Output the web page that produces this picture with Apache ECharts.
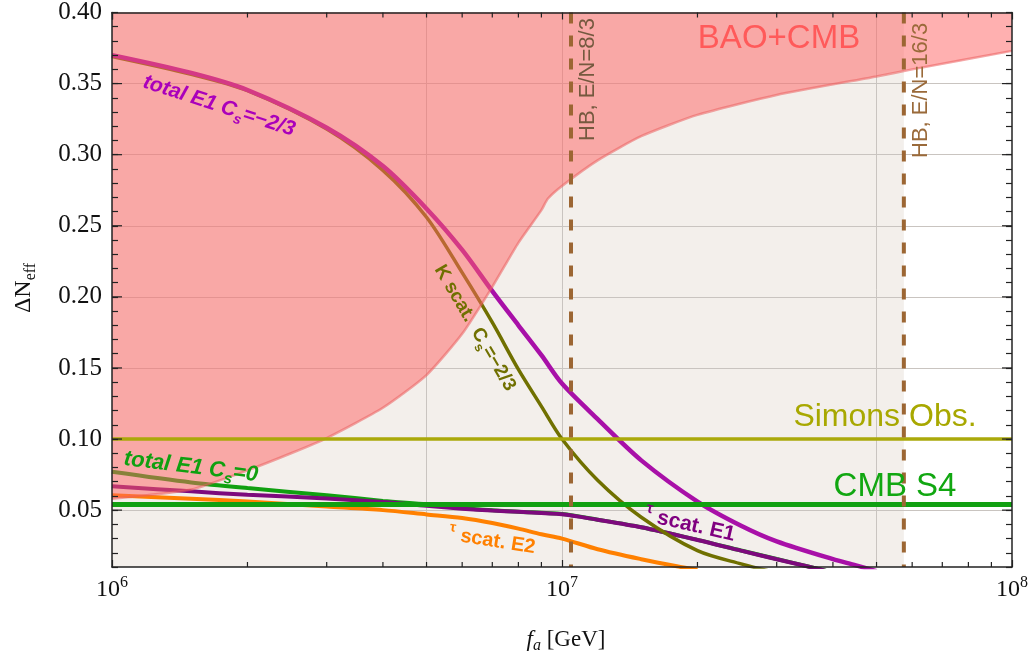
<!DOCTYPE html>
<html><head><meta charset="utf-8">
<script src="https://cdn.jsdelivr.net/npm/echarts@6/dist/echarts.min.js"></script>
<style>html,body{margin:0;padding:0;background:#fff}#c{width:1035px;height:659px}</style>
</head><body><div id="c"></div>
<script>
// ---- data (fa in GeV, Delta N_eff) ----
const totalCsNeg_fa = [1e6,1.5e6,2e6,3e6,4e6,5e6,6e6,7e6,8e6,9e6,1e7,1.2e7,1.5e7,2e7,2.5e7,3e7,4e7,4.5e7,5e7];
const totalCsNeg    = [0.370,0.3575,0.3455,0.319,0.292,0.262,0.233,0.204,0.180,0.159,0.139,0.114,0.085,0.056,0.039,0.028,0.0155,0.0112,0.007];
const kScat_fa = [1e6,1.5e6,2e6,3e6,4e6,5e6,6e6,7e6,8e6,9e6,1e7,1.2e7,1.5e7,2e7,2.5e7,3e7];
const kScat    = [0.369,0.3565,0.345,0.318,0.289,0.256,0.217,0.182,0.149,0.123,0.100,0.071,0.045,0.0215,0.0122,0.006];
const tauE1_fa = [1e6,1.5e6,2e6,3e6,4e6,5e6,6e6,7e6,8e6,1e7,1.2e7,1.5e7,2e7,2.5e7,3e7,3.5e7,4e7];
const tauE1    = [0.0668,0.0632,0.0608,0.0582,0.0557,0.053,0.051,0.0497,0.0488,0.0471,0.0432,0.0379,0.029,0.0215,0.0155,0.0105,0.006];
const tauE2_fa = [1e6,1.5e6,2e6,3e6,4e6,5e6,6e6,7e6,8e6,9e6,1e7,1.2e7,1.5e7,1.8e7,2e7];
const tauE2    = [0.0605,0.058,0.056,0.0525,0.050,0.047,0.0445,0.041,0.037,0.033,0.030,0.0225,0.0155,0.0105,0.008];
const totalCs0_fa = [1e6,1.5e6,2e6,3e6,4e6,5e6,6e6,7e6,8e6,1e7,1.2e7,1.5e7,2e7,2.5e7,3e7,3.5e7,4e7];
const totalCs0    = [0.077,0.0695,0.0655,0.0605,0.0565,0.054,0.0515,0.0499,0.0489,0.0472,0.0433,0.0380,0.0291,0.0216,0.0156,0.0106,0.0061];
const bao_fa = [1e6,1.5e6,2e6,2.5e6,3e6,4e6,5e6,6e6,7e6,8e6,9e6,9.3e6,1e7,1.2e7,1.5e7,2e7,3e7,5e7,6e7,1e8];
const bao    = [0.058,0.0645,0.078,0.090,0.1007,0.122,0.145,0.174,0.207,0.238,0.261,0.269,0.278,0.296,0.313,0.328,0.342,0.355,0.36,0.373];
const simonsObs = 0.10;
const cmbS4 = 0.054;
const hb83 = 1.047e7;
const hb163 = 5.75e7;
const xMin = 1e6, xMax = 1e8, yMin = 0.01, yMax = 0.40;
const xMinorTicks = [2e6,3e6,4e6,5e6,6e6,7e6,8e6,9e6,2e7,3e7,4e7,5e7,6e7,7e7,8e7,9e7];
const yMajorTicks = [0.05,0.10,0.15,0.20,0.25,0.30,0.35];
const xGridLines = [5e6,1e7,5e7];
const yGridLines = [0.05,0.10,0.15,0.20,0.25,0.30,0.35];

const zip = (a,b) => a.map((v,i)=>[v,b[i]]);
const SANS = 'Liberation Sans', SERIF = 'Liberation Serif';
const deg = Math.PI/180;

function curve(name, fa, vals, color, width, z){
  return {type:'line', name, data: zip(fa, vals), symbol:'none', smooth:0.3, z: z||2,
    lineStyle:{color, width}, silent:true};
}
function subRich(color, size, weight, style){
  return {
    s:{fontSize:Math.round(size*0.68), fontWeight:weight, fontStyle:style, fontFamily:SANS, fill:color, verticalAlign:'bottom', lineHeight:12},
    t:{fontSize:Math.round(size*0.72), fontWeight:weight, fontStyle:style, fontFamily:SANS, fill:color, verticalAlign:'top', lineHeight:12},
    m:{fontSize:size, fontWeight:weight, fontStyle:style, fontFamily:SANS, fill:color, lineHeight:size+8}
  };
}
function label(text, x, y, rot, color, size, weight, style){
  return {type:'text', x, y, rotation: rot*deg, z:100, silent:true,
    style:{text, rich: subRich(color,size,weight,style), fill:color, fontSize:size, fontWeight:weight, fontStyle:style,
      fontFamily:SANS, align:'center', verticalAlign:'middle', lineHeight:size+8}};
}

const chart = echarts.init(document.getElementById('c'));
const axisCommon = {
  axisLine:{show:true, onZero:false, lineStyle:{color:'#222', width:1.5}},
  splitLine:{show:false}, z:10
};
const option = {
  animation:false,
  backgroundColor:'#fff',
  grid:{left:112, right:23, top:10, bottom:92},
  xAxis:[
    Object.assign({type:'log', logBase:10, min:xMin, max:xMax, position:'bottom',
      axisTick:{show:true, inside:true, length:7, lineStyle:{color:'#222', width:1.2}},
      axisLabel:{margin:8, formatter: v => '{b|10}{s|' + Math.round(Math.log10(v)) + '}',
        rich:{b:{fontSize:24, fontFamily:SERIF, color:'#111', lineHeight:30},
              s:{fontSize:16, fontFamily:SERIF, color:'#111', verticalAlign:'top', lineHeight:16}}}}, axisCommon),
    Object.assign({type:'log', logBase:10, min:xMin, max:xMax, position:'top',
      axisTick:{show:true, inside:true, length:7, lineStyle:{color:'#222', width:1.2}},
      axisLabel:{show:false}}, axisCommon)
  ],
  yAxis:[
    Object.assign({type:'value', min:yMin, max:yMax, interval:0.01, position:'left',
      axisTick:{show:true, inside:true, length:6, lineStyle:{color:'#222', width:1.2}},
      axisLabel:{margin:10,
        formatter: v => { const k = v*20; return Math.abs(k - Math.round(k)) < 1e-6 ? '{v|' + v.toFixed(2) + '}' : ''; },
        rich:{v:{fontSize:25, fontFamily:SERIF, color:'#111'}}}}, axisCommon),
    Object.assign({type:'value', min:yMin, max:yMax, interval:0.01, position:'right',
      axisTick:{show:true, inside:true, length:6, lineStyle:{color:'#222', width:1.2}},
      axisLabel:{show:false}}, axisCommon)
  ],
  series:[
    {type:'line', name:'bg', data:[], z:0, silent:true,
      markArea:{silent:true, z:0, itemStyle:{color:'#f3efeb'},
        data:[[{xAxis:xMin, yAxis:yMin},{xAxis:hb163, yAxis:yMax}]]},
      markLine:{silent:true, z:1, symbol:'none', label:{show:false},
        lineStyle:{color:'#c9c4c0', width:1, type:'solid'},
        data: xGridLines.map(v=>({xAxis:v})).concat(yGridLines.map(v=>({yAxis:v})))}},
    curve('total E1 Cs=0', totalCs0_fa, totalCs0, '#10a010', 4),
    curve('tau scat. E2', tauE2_fa, tauE2, '#ff8000', 4),
    curve('tau scat. E1', tauE1_fa, tauE1, '#7d0a7d', 4),
    curve('K scat. Cs=-2/3', kScat_fa, kScat, '#707000', 3.5),
    curve('total E1 Cs=-2/3', totalCsNeg_fa, totalCsNeg, '#a810a8', 4.5),
    {type:'line', name:'BAO+CMB', data: zip(bao_fa, bao), symbol:'none', smooth:0.2, z:3, silent:true,
      lineStyle:{color:'rgba(235,95,95,0.55)', width:2.5},
      areaStyle:{color:'rgba(255,97,97,0.5)', opacity:1, origin:'end'}},
    {type:'line', name:'Simons Obs.', data:[[xMin,simonsObs],[xMax,simonsObs]], symbol:'none', z:4, silent:true,
      lineStyle:{color:'#aaa90a', width:3.5}},
    {type:'line', name:'CMB S4', data:[[xMin,cmbS4],[xMax,cmbS4]], symbol:'none', z:4, silent:true,
      lineStyle:{color:'#11a011', width:5}},
    {type:'line', name:'HB 8/3', data:[[hb83,yMax],[hb83,yMin]], symbol:'none', z:4, silent:true,
      lineStyle:{color:'#9c6633', width:4, type:[11,12]}},
    {type:'line', name:'HB 16/3', data:[[hb163,yMax],[hb163,yMin]], symbol:'none', z:4, silent:true,
      lineStyle:{color:'#9c6633', width:4, type:[11,12]}},
    {type:'custom', name:'xMinorTicks', z:11, silent:true, data: xMinorTicks.map(v=>[v,yMin]),
      renderItem:(params, api)=>{
        const b = api.coord([api.value(0), yMin]); const t = api.coord([api.value(0), yMax]);
        const st = {stroke:'#222', lineWidth:1.2};
        return {type:'group', children:[
          {type:'line', shape:{x1:b[0],y1:b[1],x2:b[0],y2:b[1]-5}, style:st},
          {type:'line', shape:{x1:t[0],y1:t[1],x2:t[0],y2:t[1]+5}, style:st}]};
      }},
    {type:'custom', name:'yMajorTicks', z:11, silent:true, data: yMajorTicks.map(v=>[xMin,v]),
      renderItem:(params, api)=>{
        const l = api.coord([xMin, api.value(1)]); const r = api.coord([xMax, api.value(1)]);
        const st = {stroke:'#222', lineWidth:1.2};
        return {type:'group', children:[
          {type:'line', shape:{x1:l[0],y1:l[1],x2:l[0]+10,y2:l[1]}, style:st},
          {type:'line', shape:{x1:r[0],y1:r[1],x2:r[0]-10,y2:r[1]}, style:st}]};
      }}
  ],
  graphic:[
    {type:'text', x:779, y:39, z:100, silent:true, style:{text:'BAO+CMB', fill:'#ff5a5a', fontSize:33, fontFamily:SANS, align:'center', verticalAlign:'middle'}},
    {type:'text', x:885, y:417, z:100, silent:true, style:{text:'Simons Obs.', fill:'#a8a800', fontSize:32, fontFamily:SANS, align:'center', verticalAlign:'middle'}},
    {type:'text', x:895, y:487, z:100, silent:true, style:{text:'CMB S4', fill:'#11a711', fontSize:33, fontFamily:SANS, align:'center', verticalAlign:'middle'}},
    {type:'text', x:588, y:141, rotation:90*deg, z:100, silent:true, style:{text:'HB, E/N=8/3', fill:'#75593f', fontSize:22, fontFamily:SANS, align:'left', verticalAlign:'middle'}},
    {type:'text', x:921, y:158, rotation:90*deg, z:100, silent:true, style:{text:'HB, E/N=16/3', fill:'#9a6a3a', fontSize:22, fontFamily:SANS, align:'left', verticalAlign:'middle'}},
    label('{m|total E1 C}{s|s}{m|=\u22122/3}', 219, 106, -18, '#aa00bb', 21, 'bold', 'italic'),
    label('{m|K scat.  C}{s|s}{m|=\u22122/3}', 475, 328, -59.5, '#707000', 19, 'bold', 'normal'),
    label('{m|total E1 C}{s|s}{m|=0}', 191, 467, -7, '#10a010', 22, 'bold', 'italic'),
    label('{t|\u03c4}{m| scat. E2}', 492, 541, -9, '#ff8000', 20, 'bold', 'normal'),
    label('{t|\u03c4}{m| scat. E1}', 690, 525, -13, '#800080', 21, 'bold', 'normal'),
    {type:'text', x:24, y:288, rotation:90*deg, z:100, silent:true,
      style:{text:'{a|\u0394N}{b|eff}', align:'center', verticalAlign:'middle',
        rich:{a:{fontSize:24, fontFamily:SERIF, fill:'#111', lineHeight:30},
              b:{fontSize:16, fontFamily:SERIF, fill:'#111', verticalAlign:'bottom', lineHeight:14}}}},
    {type:'text', x:566, y:640, z:100, silent:true,
      style:{text:'{i|f}{a|a}{r| [GeV]}', align:'center', verticalAlign:'middle',
        rich:{i:{fontSize:23, fontFamily:SERIF, fontStyle:'italic', fill:'#111', lineHeight:28},
              a:{fontSize:16, fontFamily:SERIF, fontStyle:'italic', fill:'#111', verticalAlign:'bottom', lineHeight:14},
              r:{fontSize:23, fontFamily:SERIF, fill:'#111', lineHeight:28}}}}
  ]
};
chart.setOption(option);
</script>
</body></html>
